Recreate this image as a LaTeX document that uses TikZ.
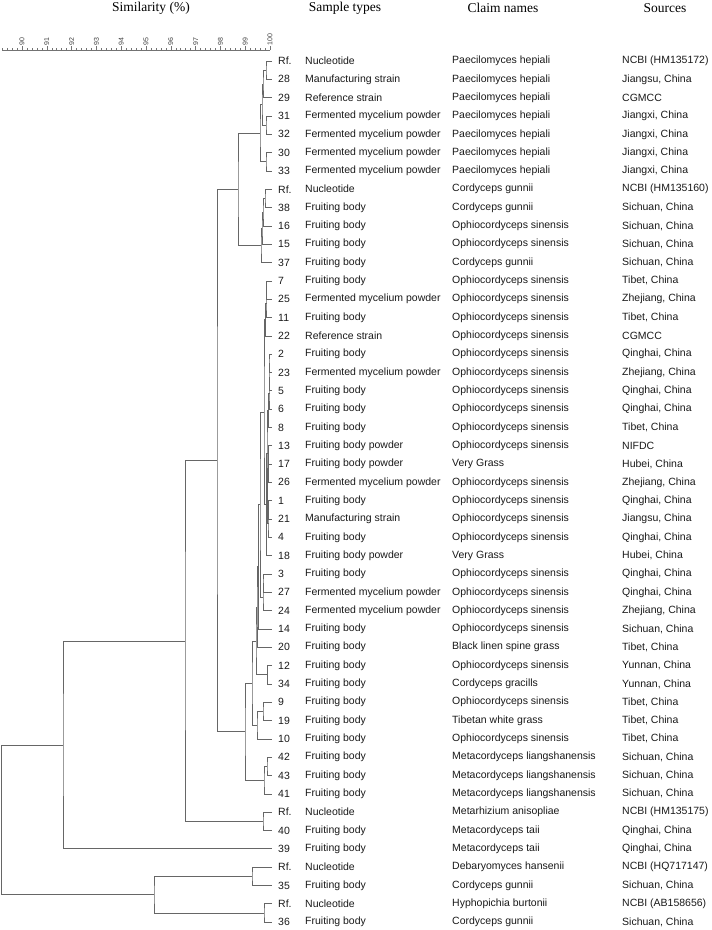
\documentclass[tikz,border=0pt]{standalone}
\usepackage{fontspec}
\setmainfont{Liberation Serif}
\setsansfont{Liberation Sans}
\usetikzlibrary{calc}

\tikzset{
  tree/.style={draw=black!60, line width=0.6pt},
  axisline/.style={draw=black!55, line width=0.5pt},
  rowtext/.style={anchor=west, inner sep=0pt, text=black!90, font=\sffamily\fontsize{10.5}{12}\selectfont},
  head/.style={inner sep=0pt, font=\fontsize{13.5}{15}\selectfont},
  ticklabel/.style={rotate=90, anchor=west, inner sep=0pt, text=black!75, font=\sffamily\fontsize{7}{8}\selectfont}
}

% join two branches at similarity position #4 (px)
\newcommand{\merge}[4]{%
  \path let \p1=(#2), \p2=(#3) in coordinate (#1) at (#4pt,{0.5*(\y1+\y2)});
  \draw[tree] (#2) -| (#1) |- (#3);
}

\begin{document}
\begin{tikzpicture}[x=1pt,y=-1pt]
\useasboundingbox (0,0) rectangle (712,930);

% headers
\node[head] (hsim) at (151,8) {Similarity (\%)};
\node[head] (htype) at (345,8) {Sample types};
\node[head] (hclaim) at (503,8) {Claim names};
\node[head] (hsrc) at (665,8) {Sources};

% similarity scale
\draw[axisline] (2,50) -- (270,50);
\foreach \k in {0,...,54}{
  \draw[axisline] (270-\k*4.96,50) -- ++(0,-2.5);
}
\foreach \v [count=\j from 0] in {90,...,100}{
  \draw[axisline] (22+\j*24.8,50) -- ++(0,-4);
  \node[ticklabel] (t\v) at (22+\j*24.8,45.5) {\v};
}

% rows
\foreach \n/\t/\c/\s [count=\i from 0] in {
  Rf./Nucleotide/Paecilomyces hepiali/{NCBI (HM135172)},
  28/Manufacturing strain/Paecilomyces hepiali/{Jiangsu, China},
  29/Reference strain/Paecilomyces hepiali/CGMCC,
  31/Fermented mycelium powder/Paecilomyces hepiali/{Jiangxi, China},
  32/Fermented mycelium powder/Paecilomyces hepiali/{Jiangxi, China},
  30/Fermented mycelium powder/Paecilomyces hepiali/{Jiangxi, China},
  33/Fermented mycelium powder/Paecilomyces hepiali/{Jiangxi, China},
  Rf./Nucleotide/Cordyceps gunnii/{NCBI (HM135160)},
  38/Fruiting body/Cordyceps gunnii/{Sichuan, China},
  16/Fruiting body/Ophiocordyceps sinensis/{Sichuan, China},
  15/Fruiting body/Ophiocordyceps sinensis/{Sichuan, China},
  37/Fruiting body/Cordyceps gunnii/{Sichuan, China},
  7/Fruiting body/Ophiocordyceps sinensis/{Tibet, China},
  25/Fermented mycelium powder/Ophiocordyceps sinensis/{Zhejiang, China},
  11/Fruiting body/Ophiocordyceps sinensis/{Tibet, China},
  22/Reference strain/Ophiocordyceps sinensis/CGMCC,
  2/Fruiting body/Ophiocordyceps sinensis/{Qinghai, China},
  23/Fermented mycelium powder/Ophiocordyceps sinensis/{Zhejiang, China},
  5/Fruiting body/Ophiocordyceps sinensis/{Qinghai, China},
  6/Fruiting body/Ophiocordyceps sinensis/{Qinghai, China},
  8/Fruiting body/Ophiocordyceps sinensis/{Tibet, China},
  13/Fruiting body powder/Ophiocordyceps sinensis/NIFDC,
  17/Fruiting body powder/Very Grass/{Hubei, China},
  26/Fermented mycelium powder/Ophiocordyceps sinensis/{Zhejiang, China},
  1/Fruiting body/Ophiocordyceps sinensis/{Qinghai, China},
  21/Manufacturing strain/Ophiocordyceps sinensis/{Jiangsu, China},
  4/Fruiting body/Ophiocordyceps sinensis/{Qinghai, China},
  18/Fruiting body powder/Very Grass/{Hubei, China},
  3/Fruiting body/Ophiocordyceps sinensis/{Qinghai, China},
  27/Fermented mycelium powder/Ophiocordyceps sinensis/{Qinghai, China},
  24/Fermented mycelium powder/Ophiocordyceps sinensis/{Zhejiang, China},
  14/Fruiting body/Ophiocordyceps sinensis/{Sichuan, China},
  20/Fruiting body/Black linen spine grass/{Tibet, China},
  12/Fruiting body/Ophiocordyceps sinensis/{Yunnan, China},
  34/Fruiting body/Cordyceps gracills/{Yunnan, China},
  9/Fruiting body/Ophiocordyceps sinensis/{Tibet, China},
  19/Fruiting body/Tibetan white grass/{Tibet, China},
  10/Fruiting body/Ophiocordyceps sinensis/{Tibet, China},
  42/Fruiting body/Metacordyceps liangshanensis/{Sichuan, China},
  43/Fruiting body/Metacordyceps liangshanensis/{Sichuan, China},
  41/Fruiting body/Metacordyceps liangshanensis/{Sichuan, China},
  Rf./Nucleotide/Metarhizium anisopliae/{NCBI (HM135175)},
  40/Fruiting body/Metacordyceps taii/{Qinghai, China},
  39/Fruiting body/Metacordyceps taii/{Qinghai, China},
  Rf./Nucleotide/Debaryomyces hansenii/{NCBI (HQ717147)},
  35/Fruiting body/Cordyceps gunnii/{Sichuan, China},
  Rf./Nucleotide/Hyphopichia burtonii/{NCBI (AB158656)},
  36/Fruiting body/Cordyceps gunnii/{Sichuan, China}}{
  \pgfmathsetmacro{\yy}{61+18.32*\i}
  \coordinate (l\i) at (272,\yy);
  \node[rowtext] (num\i) at (278,\yy) {\n};
  \node[rowtext] (type\i) at (305,\yy) {\t};
  \node[rowtext] (claim\i) at (452,\yy) {\c};
  \node[rowtext] (src\i) at (622,\yy) {\s};
}

% Paecilomyces hepiali
\merge{a1}{l0}{l1}{266}
\merge{a2}{a1}{l2}{263}
\merge{a3}{l3}{l4}{266}
\merge{a4}{l5}{l6}{266}
\merge{a5}{a2}{a3}{262}
\merge{a6}{a5}{a4}{260}
% Cordyceps gunnii
\merge{b1}{l7}{l8}{265}
\merge{b2}{b1}{l9}{263}
\merge{b3}{b2}{l10}{262}
\merge{b4}{b3}{l11}{261}
\merge{ab}{a6}{b4}{238}
% Ophiocordyceps sinensis
\merge{c1}{l12}{l13}{266.5}
\merge{c2}{c1}{l14}{266}
\merge{c3}{c2}{l15}{265.5}
\merge{k1}{l16}{l17}{269}
\merge{k2}{k1}{l18}{269}
\merge{k3}{k2}{l19}{269}
\merge{k4}{k3}{l20}{268.5}
\merge{k5}{l21}{l22}{268.5}
\merge{k6}{k5}{l23}{268.5}
\merge{k7}{l24}{l25}{268.5}
\merge{k8}{k7}{l26}{268}
\merge{k9}{k6}{k8}{267.5}
\merge{k10}{k4}{k9}{267}
\merge{k11}{k10}{l27}{266.5}
\merge{core}{c3}{k11}{264}
\merge{d1}{l28}{l29}{263}
\merge{d2}{d1}{l30}{263}
\merge{d3}{core}{d2}{260}
\merge{d4}{d3}{l31}{258.5}
\merge{d5}{d4}{l32}{257}
\merge{e1}{l33}{l34}{267.5}
\merge{e2}{d5}{e1}{256}
\merge{g1}{l35}{l36}{263}
\merge{g2}{g1}{l37}{257}
\merge{f}{e2}{g2}{252}
\merge{n1}{l38}{l39}{267}
\merge{n2}{n1}{l40}{264}
\merge{p}{f}{n2}{245}
\merge{q}{ab}{p}{217}
% Metarhizium / taii
\merge{r}{l41}{l42}{263}
\merge{s}{q}{r}{185}
\merge{t}{s}{l43}{63}
% yeasts
\merge{u1}{l44}{l45}{252}
\merge{u2}{l46}{l47}{264}
\merge{u}{u1}{u2}{154}
\merge{root}{t}{u}{1.5}
\end{tikzpicture}
\end{document}
